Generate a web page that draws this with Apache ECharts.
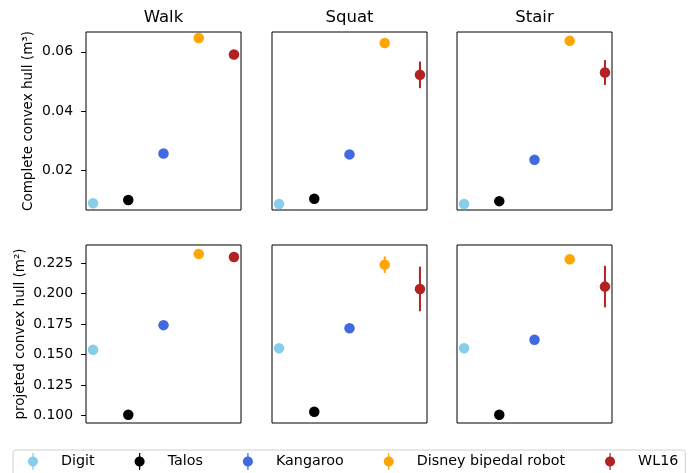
<!DOCTYPE html>
<html>
<head>
<meta charset="utf-8">
<script src="https://cdn.jsdelivr.net/npm/echarts@6/dist/echarts.min.js"></script>
<style>
  html, body { margin: 0; padding: 0; background: #fff; }
  #chart { width: 699px; height: 473px; }
</style>
</head>
<body>
<div id="chart"></div>
<script>
// robots, in legend order
const robots = ['Digit', 'Talos', 'Kangaroo', 'Disney bipedal robot', 'WL16'];
const robotColors = ['#87ceeb', '#000000', '#4169e1', '#ffa500', '#b22222'];
const tasks = ['Walk', 'Squat', 'Stair'];
const robotX = [0, 1, 2, 3, 4];

// complete convex hull (m³), mean and std
const hullWalk = [0.0088, 0.0099, 0.0256, 0.0647, 0.0591];
const hullWalkErr = [0, 0, 0, 0.0002, 0.0004];
const hullSquat = [0.0085, 0.0103, 0.0253, 0.0630, 0.0522];
const hullSquatErr = [0, 0, 0, 0.0003, 0.0045];
const hullStair = [0.0085, 0.0095, 0.0235, 0.0637, 0.0530];
const hullStairErr = [0, 0, 0, 0.0002, 0.0042];
const hullTicks = [0.02, 0.04, 0.06];

// projected convex hull (m²), mean and std
const projWalk = [0.1538, 0.1006, 0.1740, 0.2324, 0.2299];
const projWalkErr = [0, 0, 0, 0.0010, 0.0010];
const projSquat = [0.1551, 0.1030, 0.1715, 0.2236, 0.2037];
const projSquatErr = [0, 0, 0, 0.0068, 0.0183];
const projStair = [0.1551, 0.1006, 0.1620, 0.2280, 0.2056];
const projStairErr = [0, 0, 0.0020, 0.0010, 0.0170];
const projTicks = [0.100, 0.125, 0.150, 0.175, 0.200, 0.225];

const rows = [
    {vals: [hullWalk, hullSquat, hullStair], errs: [hullWalkErr, hullSquatErr, hullStairErr],
        ticks: hullTicks, min: 0.0065, max: 0.0667, digits: 2,
        name: 'Complete convex hull (m³)', nameGap: 51, top: 32},
    {vals: [projWalk, projSquat, projStair], errs: [projWalkErr, projSquatErr, projStairErr],
        ticks: projTicks, min: 0.0938, max: 0.2397, digits: 3,
        name: 'projeted convex hull (m²)', nameGap: 59, top: 245}
];
const colLeft = [86, 272, 457];

const grids = [], xAxes = [], yAxes = [], series = [];
const font = 'DejaVu Sans';

rows.forEach((row, r) => {
    tasks.forEach((task, c) => {
        const idx = grids.length;
        grids.push({
            left: colLeft[c], top: row.top, width: 155, height: 178,
            show: true, borderColor: '#000', borderWidth: 1
        });
        xAxes.push({
            gridIndex: idx, type: 'value', min: -0.2, max: 4.2,
            position: r === 0 ? 'top' : 'bottom',
            name: r === 0 ? task : '', nameLocation: 'middle', nameGap: 6,
            nameTextStyle: {fontSize: 16.5, color: '#000', fontFamily: font},
            axisLine: {show: false, onZero: false}, axisTick: {show: false},
            axisLabel: {show: false}, splitLine: {show: false}
        });
        yAxes.push({
            gridIndex: idx, type: 'value', min: row.min, max: row.max,
            name: c === 0 ? row.name : '', nameLocation: 'middle', nameGap: row.nameGap,
            nameRotate: 90,
            nameTextStyle: {fontSize: 13.5, color: '#000', fontFamily: font},
            axisLine: {show: false, onZero: false},
            axisTick: {show: c === 0, inside: false, length: 5, customValues: row.ticks,
                lineStyle: {color: '#000', width: 1}},
            axisLabel: {show: c === 0, customValues: row.ticks, margin: 13,
                fontSize: 13.9, color: '#000', fontFamily: font,
                formatter: v => v.toFixed(row.digits)},
            splitLine: {show: false}
        });
        // error bars
        series.push({
            name: 'err' + idx, type: 'custom', coordinateSystem: 'cartesian2d',
            xAxisIndex: idx, yAxisIndex: idx, z: 1, silent: true,
            data: robotX.map((x, i) => [x, row.vals[c][i], row.errs[c][i], i]),
            renderItem: function (params, api) {
                const x = api.value(0), y = api.value(1), e = api.value(2);
                const p1 = api.coord([x, y - e]);
                const p2 = api.coord([x, y + e]);
                return {
                    type: 'line',
                    shape: {x1: p1[0], y1: p1[1], x2: p2[0], y2: p2[1]},
                    style: {stroke: robotColors[api.value(3)], lineWidth: 2}
                };
            }
        });
        robots.forEach((robot, i) => {
            series.push({
                name: robot, type: 'scatter', xAxisIndex: idx, yAxisIndex: idx, z: 3,
                symbol: 'circle', symbolSize: 10.5,
                itemStyle: {color: robotColors[i], opacity: 1},
                data: [[robotX[i], row.vals[c][i]]]
            });
        });
    });
});

// errorbar-like legend handle: thin vertical bar through a dot, in a 37x17 box
// (the corner moves only widen the box so the handle sits like matplotlib's)
const legendIcon = 'path://M0,0L0,0M37,17L37,17' +
    'M13.4,0L14.6,0L14.6,17L13.4,17Z' +
    'M19,8.5C19,11.26 16.76,13.5 14,13.5C11.24,13.5 9,11.26 9,8.5' +
    'C9,5.74 11.24,3.5 14,3.5C16.76,3.5 19,5.74 19,8.5Z';

const chart = echarts.init(document.getElementById('chart'), null, {renderer: 'canvas'});
chart.setOption({
    animation: false,
    backgroundColor: '#fff',
    grid: grids,
    xAxis: xAxes,
    yAxis: yAxes,
    legend: {
        data: robots.map(r => ({name: r, icon: legendIcon})),
        left: 13, top: 450, orient: 'horizontal',
        padding: [3, 7, 8, 6],
        itemWidth: 37, itemHeight: 17, itemGap: 31,
        borderColor: '#d0d0d0', borderWidth: 1, borderRadius: 3,
        backgroundColor: '#fff',
        textStyle: {fontSize: 14.3, color: '#000', fontFamily: font}
    },
    series: series
});
</script>
</body>
</html>
